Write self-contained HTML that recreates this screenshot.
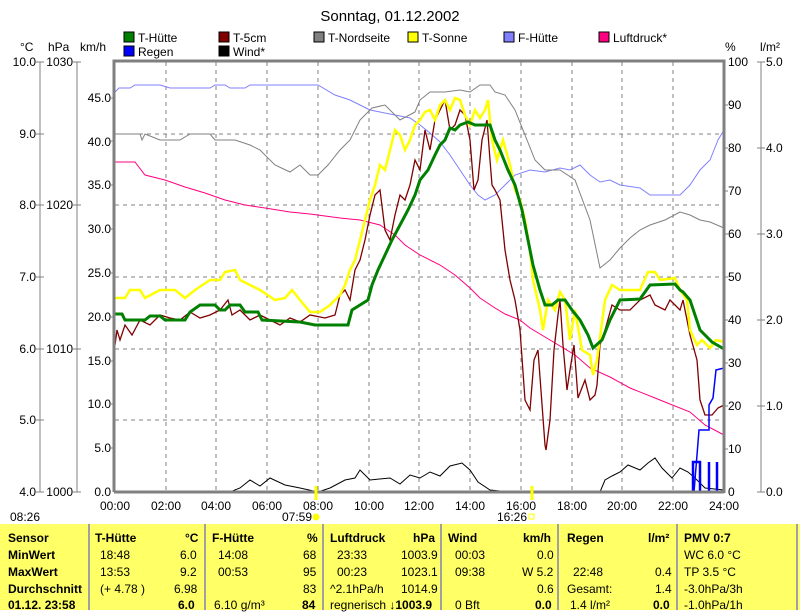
<!DOCTYPE html>
<html><head><meta charset="utf-8"><style>
body{margin:0;background:#fff;width:800px;height:610px;overflow:hidden;font-family:"Liberation Sans",sans-serif}
svg{position:absolute;left:0;top:0}
.tab{position:absolute;left:0;top:524px;width:800px;height:86px;background:#ffff66}
.c{position:absolute;font-size:12px;white-space:nowrap}
.b{font-weight:bold}
</style></head><body>
<div class="tab">
<div style="position:absolute;left:88px;top:0;width:2px;height:86px;background:#a0a0a0"></div>
<div style="position:absolute;left:204px;top:0;width:2px;height:86px;background:#a0a0a0"></div>
<div style="position:absolute;left:322px;top:0;width:2px;height:86px;background:#a0a0a0"></div>
<div style="position:absolute;left:440px;top:0;width:2px;height:86px;background:#a0a0a0"></div>
<div style="position:absolute;left:557px;top:0;width:2px;height:86px;background:#a0a0a0"></div>
<div style="position:absolute;left:676px;top:0;width:2px;height:86px;background:#a0a0a0"></div>
<div style="position:absolute;left:796px;top:0;width:2px;height:86px;background:#a0a0a0"></div>
</div>
<svg width="800" height="610" viewBox="0 0 800 610">
<text x="390" y="21" style="font-size:15px" text-anchor="middle">Sonntag, 01.12.2002</text>
<g font-size="12">
<rect x="124" y="32" width="10" height="10" fill="#008000" stroke="#000"/><text x="138" y="42">T-Hütte</text>
<rect x="219" y="32" width="10" height="10" fill="#800000" stroke="#000"/><text x="233" y="42">T-5cm</text>
<rect x="314" y="32" width="10" height="10" fill="#808080" stroke="#000"/><text x="328" y="42">T-Nordseite</text>
<rect x="408" y="32" width="10" height="10" fill="#ffff00" stroke="#000"/><text x="422" y="42">T-Sonne</text>
<rect x="504" y="32" width="10" height="10" fill="#8080ff" stroke="#000"/><text x="518" y="42">F-Hütte</text>
<rect x="599" y="32" width="10" height="10" fill="#ff0080" stroke="#000"/><text x="613" y="42">Luftdruck*</text>
<rect x="124" y="46" width="10" height="10" fill="#0000ff" stroke="#000"/><text x="138" y="56">Regen</text>
<rect x="219" y="46" width="10" height="10" fill="#000" stroke="#000"/><text x="233" y="56">Wind*</text>
<text x="20" y="51">°C</text><text x="48" y="51">hPa</text><text x="80" y="51">km/h</text>
<text x="725" y="51">%</text><text x="760" y="51">l/m²</text>
</g>
<g stroke="#808080" fill="none">
<line x1="40" y1="62" x2="40" y2="492"/><line x1="77" y1="62" x2="77" y2="492"/><line x1="761" y1="62" x2="761" y2="492"/>
<path d="M36 62h8M36 134h8M36 205h8M36 277h8M36 349h8M36 420h8M36 492h8M73 62h8M73 205h8M73 349h8M73 492h8M757 62h8M757 148h8M757 234h8M757 320h8M757 406h8M757 492h8"/>
</g>
<g font-size="12" text-anchor="end">
<text x="36" y="66">10.0</text><text x="36" y="138">9.0</text><text x="36" y="209">8.0</text><text x="36" y="281">7.0</text><text x="36" y="353">6.0</text><text x="36" y="424">5.0</text><text x="36" y="496">4.0</text>
<text x="73" y="66">1030</text><text x="73" y="209">1020</text><text x="73" y="353">1010</text><text x="73" y="496">1000</text>
<text x="111" y="102">45.0</text><text x="111" y="146">40.0</text><text x="111" y="189">35.0</text><text x="111" y="233">30.0</text><text x="111" y="277">25.0</text><text x="111" y="321">20.0</text><text x="111" y="365">15.0</text><text x="111" y="408">10.0</text><text x="111" y="452">5.0</text><text x="111" y="496">0.0</text>
</g>
<g font-size="12">
<text x="728" y="66">100</text><text x="728" y="109">90</text><text x="728" y="152">80</text><text x="728" y="195">70</text><text x="728" y="238">60</text><text x="728" y="281">50</text><text x="728" y="324">40</text><text x="728" y="367">30</text><text x="728" y="410">20</text><text x="728" y="453">10</text><text x="728" y="496">0</text>
<text x="766" y="66">5.0</text><text x="766" y="152">4.0</text><text x="766" y="238">3.0</text><text x="766" y="324">2.0</text><text x="766" y="410">1.0</text><text x="766" y="496">0.0</text>
</g>
<g stroke="#808080"><path d="M110 98h4M110 141h4M110 185h4M110 229h4M110 273h4M110 317h4M110 361h4M110 404h4M110 448h4M724 105h4M724 148h4M724 191h4M724 234h4M724 277h4M724 320h4M724 363h4M724 406h4M724 449h4"/></g>
<g stroke="#808080" stroke-dasharray="4,4">
<path d="M166 62V492M216 62V492M267 62V492M318 62V492M369 62V492M419 62V492M470 62V492M521 62V492M572 62V492M622 62V492M673 62V492"/>
<path d="M115 134H724M115 205H724M115 277H724M115 349H724M115 420H724"/>
</g>
<g fill="none">
<polyline stroke="#8080ff" points="115,92 119,88 130,88 135,85 160,85 170,88 210,88 215,85 225,85 230,88 245,88 250,85 318,85 335,95 350,100 360,105 370,110 380,112 395,115 410,118 420,125 430,133 440,142 450,155 460,170 470,185 478,195 485,200 495,195 505,185 515,175 530,170 545,172 560,168 570,170 580,165 590,175 600,182 610,180 620,185 640,188 650,195 680,195 690,185 700,170 710,160 718,140 724,130"/>
<polyline stroke="#808080" points="115,134 140,134 142,140 145,134 160,140 180,140 190,134 210,134 215,140 235,140 250,145 260,150 275,165 290,172 300,165 310,175 318,175 328,165 340,150 350,140 360,120 372,108 385,105 400,120 415,112 420,100 430,92 445,92 460,90 470,92 480,85 490,85 495,92 505,95 515,110 525,135 535,160 545,170 560,170 575,180 590,220 600,268 610,260 620,248 630,238 640,230 650,225 665,220 680,212 690,215 700,220 710,222 724,228"/>
<polyline stroke="#ff0080" points="115,162 135,162 145,175 165,180 185,187 205,193 225,200 245,205 265,208 290,212 310,214 340,218 360,220 380,225 395,235 405,245 420,255 440,265 455,275 470,288 480,298 495,308 505,314 520,320 530,328 550,340 575,355 590,368 610,377 630,388 660,400 690,412 705,425 724,435"/>
<polyline stroke="#000" points="115,492 230,492 240,488 250,480 260,486 270,478 285,485 300,488 318,492 330,488 345,480 355,478 360,470 370,480 390,478 400,484 410,475 420,478 430,472 440,476 450,466 462,463 470,470 478,482 490,490 510,492 600,492 605,480 612,476 620,472 628,465 640,470 648,463 655,458 662,468 672,478 680,468 688,472 695,478 705,488 724,490"/>
<polyline stroke="#800000" stroke-width="1.3" points="115,345 117,330 120,340 125,325 132,335 140,320 150,325 160,315 170,318 180,320 190,312 200,318 210,315 220,310 228,300 232,315 240,310 250,320 260,315 270,320 280,325 290,318 300,322 310,315 325,318 335,315 340,295 345,290 350,300 355,270 360,260 365,240 370,215 375,195 380,190 385,230 390,240 395,215 400,195 405,200 410,185 415,160 420,170 425,130 430,150 435,120 440,110 445,100 450,130 455,125 460,110 465,115 470,140 474,190 478,180 482,140 487,120 490,160 492,185 495,190 500,200 505,250 510,280 515,300 520,330 525,400 530,410 534,360 538,350 545,445 546,450 550,420 554,350 558,315 560,300 563,345 567,390 570,370 574,345 578,398 585,380 590,400 595,395 597,385 600,345 605,330 612,305 620,310 630,310 640,300 650,295 655,305 665,310 670,300 680,310 683,300 690,335 697,360 700,400 705,415 712,415 718,408 724,405"/>
<polyline stroke="#ffff00" stroke-width="2.5" points="115,298 125,298 130,290 140,290 145,298 160,290 175,290 185,298 195,290 210,280 220,280 225,272 235,270 240,280 250,285 260,290 275,300 285,298 292,290 300,300 310,312 320,312 330,305 340,295 345,285 350,270 355,260 360,240 365,220 370,200 375,185 380,165 385,170 390,150 395,130 400,135 405,150 410,140 415,125 420,120 425,112 430,110 435,120 440,105 445,100 450,110 455,98 460,100 465,115 470,125 475,110 480,118 485,110 488,100 492,140 497,160 503,140 510,165 515,190 520,200 525,220 530,250 533,280 540,310 543,330 548,300 555,310 560,292 565,300 570,340 575,310 582,350 590,355 593,375 597,360 605,300 612,285 620,290 640,290 648,272 655,272 660,280 675,278 680,290 687,300 690,330 697,345 702,340 710,348 716,340 724,342"/>
<polyline stroke="#008000" stroke-width="3" points="115,314 122,314 125,320 145,320 150,316 160,316 165,320 185,320 190,312 200,305 215,305 220,310 225,310 230,305 240,305 245,312 258,312 262,320 300,322 315,325 348,325 352,310 360,305 368,300 372,285 378,270 385,255 392,240 400,225 408,210 415,195 420,180 428,170 435,155 440,145 445,140 450,128 455,130 460,125 468,122 475,125 490,125 495,140 500,150 508,170 515,185 522,210 528,240 533,265 540,290 545,305 552,305 558,300 565,300 572,310 580,320 588,335 593,348 602,340 610,320 620,300 640,299 650,285 675,284 680,290 683,292 690,300 700,330 712,342 724,349"/>
<polyline stroke="#0000ff" stroke-width="1.5" points="694,492 697,455 699,430 709,430 709,405 713,398 716,370 724,368"/>
<path stroke="#0000ff" stroke-width="2.5" d="M693,492V462H700V492M709,492V462M717,492V462"/>
</g>
<path d="M114 492V61H724V493M114 492H724" stroke="#808080" stroke-width="3" fill="none"/>
<path d="M316 486v14M532 486v14" stroke="#ffff00" stroke-width="3"/>
<g font-size="12" text-anchor="middle">
<text x="115" y="510">00:00</text><text x="166" y="510">02:00</text><text x="216" y="510">04:00</text><text x="267" y="510">06:00</text><text x="318" y="510">08:00</text><text x="369" y="510">10:00</text><text x="419" y="510">12:00</text><text x="470" y="510">14:00</text><text x="521" y="510">16:00</text><text x="572" y="510">18:00</text><text x="622" y="510">20:00</text><text x="673" y="510">22:00</text><text x="724" y="510">24:00</text>
</g>
<g font-size="12"><text x="10" y="521">08:26</text><text x="282" y="521">07:59</text><text x="497" y="521">16:26</text></g>
<circle cx="316" cy="517" r="3.5" fill="#ffff00"/>
<rect x="529" y="514" width="5" height="5" fill="none" stroke="#ffff00"/>
</svg>
<div class="c b" style="left:8px;top:531px">Sensor</div>
<div class="c b" style="left:8px;top:548px">MinWert</div>
<div class="c b" style="left:8px;top:565px">MaxWert</div>
<div class="c b" style="left:8px;top:582px">Durchschnitt</div>
<div class="c b" style="left:8px;top:598px">01.12. 23:58</div>
<div class="c b" style="left:95px;top:531px">T-Hütte</div><div class="c b" style="left:185px;top:531px">°C</div>
<div class="c" style="left:100px;top:548px">18:48</div><div class="c" style="left:180px;top:548px">6.0</div>
<div class="c" style="left:100px;top:565px">13:53</div><div class="c" style="left:180px;top:565px">9.2</div>
<div class="c" style="left:100px;top:582px">(+ 4.78 )</div><div class="c" style="left:174px;top:582px">6.98</div>
<div class="c b" style="left:178px;top:598px">6.0</div>
<div class="c b" style="left:212px;top:531px">F-Hütte</div><div class="c b" style="left:307px;top:531px">%</div>
<div class="c" style="left:218px;top:548px">14:08</div><div class="c" style="left:303px;top:548px">68</div>
<div class="c" style="left:218px;top:565px">00:53</div><div class="c" style="left:303px;top:565px">95</div>
<div class="c" style="left:303px;top:582px">83</div>
<div class="c" style="left:214px;top:598px">6.10 g/m³</div><div class="c b" style="left:302px;top:598px">84</div>
<div class="c b" style="left:330px;top:531px">Luftdruck</div><div class="c b" style="left:413px;top:531px">hPa</div>
<div class="c" style="left:337px;top:548px">23:33</div><div class="c" style="left:401px;top:548px">1003.9</div>
<div class="c" style="left:337px;top:565px">00:23</div><div class="c" style="left:401px;top:565px">1023.1</div>
<div class="c" style="left:330px;top:582px">^2.1hPa/h</div><div class="c" style="left:401px;top:582px">1014.9</div>
<div class="c" style="left:330px;top:598px">regnerisch <b>↓1003.9</b></div>
<div class="c b" style="left:448px;top:531px">Wind</div><div class="c b" style="left:523px;top:531px">km/h</div>
<div class="c" style="left:455px;top:548px">00:03</div><div class="c" style="left:537px;top:548px">0.0</div>
<div class="c" style="left:455px;top:565px">09:38</div><div class="c" style="left:522px;top:565px">W 5.2</div>
<div class="c" style="left:537px;top:582px">0.6</div>
<div class="c" style="left:455px;top:598px">0 Bft</div><div class="c b" style="left:535px;top:598px">0.0</div>
<div class="c b" style="left:567px;top:531px">Regen</div><div class="c b" style="left:648px;top:531px">l/m²</div>
<div class="c" style="left:573px;top:565px">22:48</div><div class="c" style="left:655px;top:565px">0.4</div>
<div class="c" style="left:567px;top:582px">Gesamt:</div><div class="c" style="left:655px;top:582px">1.4</div>
<div class="c" style="left:570px;top:598px">1.4 l/m²</div><div class="c b" style="left:653px;top:598px">0.0</div>
<div class="c b" style="left:684px;top:531px">PMV 0:7</div>
<div class="c" style="left:684px;top:548px">WC 6.0 °C</div>
<div class="c" style="left:684px;top:565px">TP 3.5 °C</div>
<div class="c" style="left:684px;top:582px">-3.0hPa/3h</div>
<div class="c" style="left:684px;top:598px">-1.0hPa/1h</div>
</body></html>
